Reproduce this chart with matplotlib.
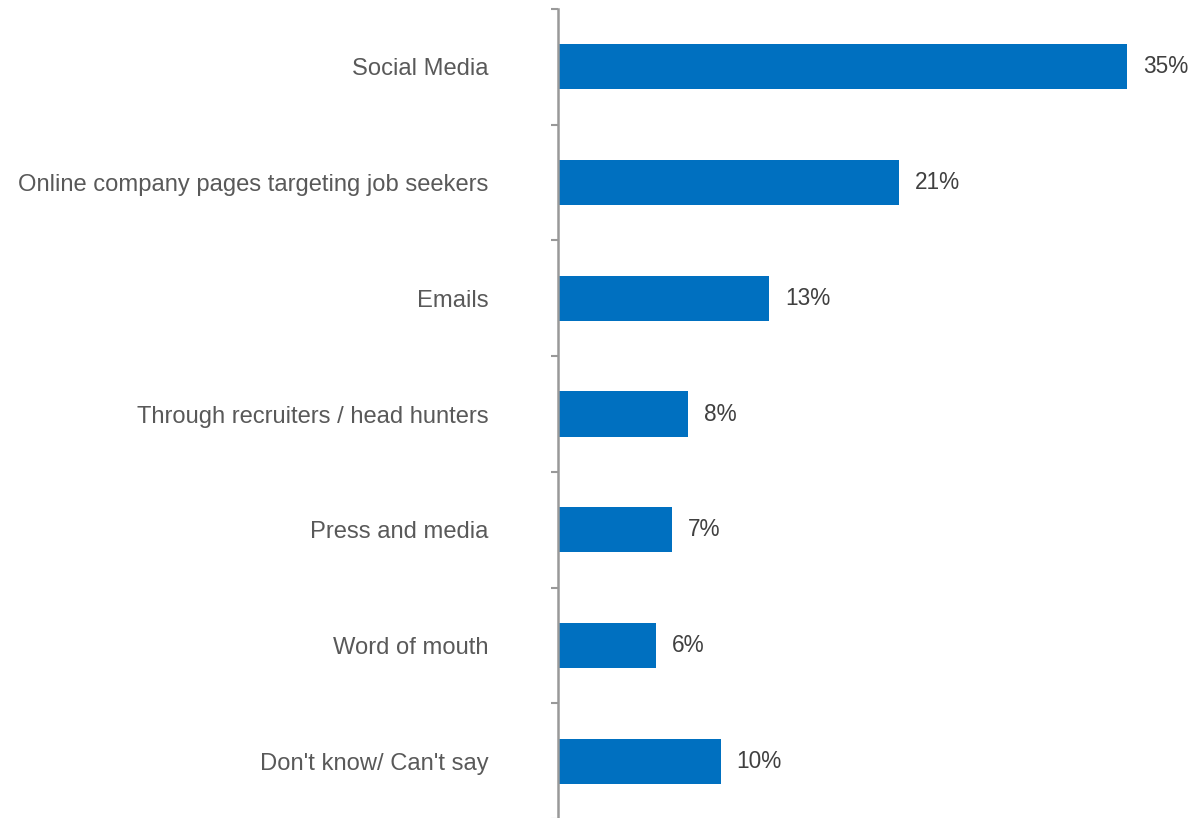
import matplotlib
matplotlib.use("Agg")
import matplotlib.pyplot as plt

categories = [
    "Social Media",
    "Online company pages targeting job seekers",
    "Emails",
    "Through recruiters / head hunters",
    "Press and media",
    "Word of mouth",
    "Don't know/ Can't say",
]
values = [35, 21, 13, 8, 7, 6, 10]

plt.rcParams["font.family"] = ["Liberation Sans", "DejaVu Sans"]

W, H = 1195, 818
fig = plt.figure(figsize=(W / 100, H / 100), dpi=100)
ax = fig.add_axes([558 / W, (H - 819) / H, (W - 558) / W, (819 - 9) / H])

n = len(categories)
ypos = list(range(n))
ax.barh(ypos, values, height=0.39, color="#0070C0", zorder=2)
ax.set_ylim(n - 0.5, -0.5)
ax.set_xlim(0, 39.2)

for y, v in zip(ypos, values):
    ax.annotate(f"{v}%", xy=(v, y), xytext=(11.5, 0), textcoords="offset points",
                va="center", ha="left", fontsize=16.3, color="#404040")

# category labels
ax.set_yticks(ypos)
ax.set_yticklabels(categories, fontsize=17.1, color="#595959")
ax.tick_params(axis="y", length=0, pad=50)

# boundary ticks between categories
ax.set_yticks([i - 0.5 for i in range(n + 1)], minor=True)
ax.tick_params(axis="y", which="minor", length=5, width=1.5, color="#999999", direction="out")

ax.set_xticks([])
for s in ["top", "right", "bottom"]:
    ax.spines[s].set_visible(False)
ax.spines["left"].set_color("#999999")
ax.spines["left"].set_linewidth(1.8)

fig.savefig("out.png", dpi=100)
